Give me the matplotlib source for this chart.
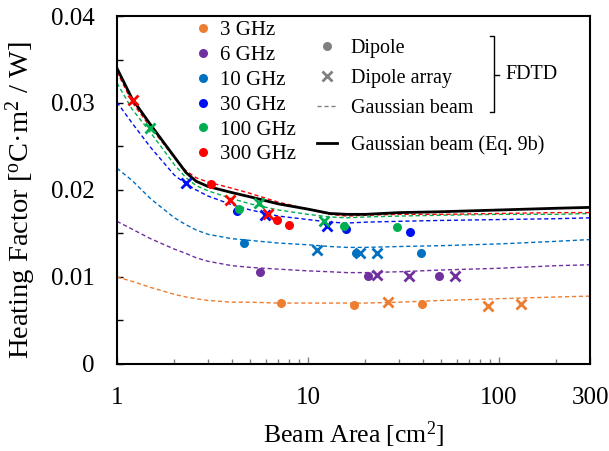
import matplotlib
matplotlib.use('Agg')
import matplotlib.pyplot as plt
from matplotlib.lines import Line2D
from matplotlib.ticker import FixedLocator, FuncFormatter, MultipleLocator, LogLocator, NullFormatter

plt.rcParams['font.family'] = ['Liberation Serif', 'DejaVu Serif']
plt.rcParams['mathtext.fontset'] = 'custom'
plt.rcParams['mathtext.rm'] = 'Liberation Serif'
plt.rcParams['mathtext.it'] = 'Liberation Serif:italic'

# beam area grid [cm2] for the curves
area = [1, 1.2, 1.5, 2, 2.3, 2.6, 3, 4, 5, 7, 10, 13, 16, 20, 30, 50, 100, 200, 300]

# Gaussian beam (Eq. 9b)
eq9b = [0.0340, 0.0305, 0.0275, 0.0238, 0.0220, 0.0210, 0.0204, 0.0197, 0.0192, 0.0184,
        0.0178, 0.0173, 0.0172, 0.0172, 0.0174, 0.0175, 0.0177, 0.0179, 0.0180]

# FDTD gaussian beam, per frequency
gb_3 = [0.0100, 0.0095, 0.0088, 0.0080, 0.0077, 0.0075, 0.0073, 0.0071, 0.0071, 0.0070,
        0.0070, 0.0070, 0.0070, 0.0070, 0.0071, 0.0073, 0.0075, 0.0077, 0.0078]
gb_6 = [0.0164, 0.0155, 0.0144, 0.0132, 0.0127, 0.0122, 0.0118, 0.0113, 0.0111, 0.0109,
        0.0107, 0.0106, 0.0105, 0.0105, 0.0106, 0.0108, 0.0110, 0.0113, 0.0114]
gb_10 = [0.0225, 0.0211, 0.0190, 0.0168, 0.0160, 0.0154, 0.0149, 0.0144, 0.0142, 0.0139,
         0.0137, 0.0135, 0.0134, 0.0134, 0.0135, 0.0136, 0.0138, 0.0141, 0.0143]
gb_30 = [0.0301, 0.0277, 0.0249, 0.0217, 0.0207, 0.0200, 0.0193, 0.0183, 0.0177, 0.0170,
         0.0166, 0.0163, 0.0162, 0.0163, 0.0164, 0.0165, 0.0166, 0.0167, 0.0168]
gb_100 = [0.0323, 0.0293, 0.0266, 0.0229, 0.0214, 0.0205, 0.0199, 0.0190, 0.0184, 0.0177,
          0.0172, 0.0169, 0.0168, 0.0169, 0.0170, 0.0171, 0.0172, 0.0172, 0.0173]
gb_300 = [0.0336, 0.0301, 0.0272, 0.0237, 0.0222, 0.0214, 0.0209, 0.0202, 0.0196, 0.0186,
          0.0178, 0.0172, 0.0170, 0.0171, 0.0172, 0.0172, 0.0173, 0.0174, 0.0174]

# dipole (dots) and dipole array (crosses): area, heating factor
dip_3_x = [7.23, 17.5, 39.5];     dip_3_y = [0.00705, 0.00675, 0.00686]
arr_3_x = [26.2, 87.8, 130.7];    arr_3_y = [0.00717, 0.00667, 0.00686]
dip_6_x = [5.59, 20.6, 48.7];     dip_6_y = [0.01057, 0.01011, 0.01015]
arr_6_x = [23.0, 34.0, 58.7];     arr_6_y = [0.01023, 0.01011, 0.01011]
dip_10_x = [4.64, 17.9, 39.3];    dip_10_y = [0.0139, 0.01274, 0.0127]
arr_10_x = [11.2, 18.7, 23.0];    arr_10_y = [0.01307, 0.01274, 0.01274]
dip_30_x = [4.24, 15.8, 34.1];    dip_30_y = [0.01762, 0.01552, 0.01513]
arr_30_x = [2.31, 5.96, 12.6];    arr_30_y = [0.0208, 0.01716, 0.01582]
dip_100_x = [4.37, 15.4, 29.1];   dip_100_y = [0.01778, 0.01582, 0.0158]
arr_100_x = [1.49, 5.54, 12.2];   arr_100_y = [0.02716, 0.01854, 0.01644]
dip_300_x = [3.12, 6.86, 7.93];   dip_300_y = [0.0207, 0.01659, 0.01601]
arr_300_x = [1.21, 3.92, 6.16];   arr_300_y = [0.0304, 0.01885, 0.01724]

labels = ['3 GHz', '6 GHz', '10 GHz', '30 GHz', '100 GHz', '300 GHz']
colors = ['#ED7D31', '#7030A0', '#0070C0', '#0010F0', '#00B050', '#FF0000']
curves = [gb_3, gb_6, gb_10, gb_30, gb_100, gb_300]
dips = [(dip_3_x, dip_3_y), (dip_6_x, dip_6_y), (dip_10_x, dip_10_y),
        (dip_30_x, dip_30_y), (dip_100_x, dip_100_y), (dip_300_x, dip_300_y)]
arrs = [(arr_3_x, arr_3_y), (arr_6_x, arr_6_y), (arr_10_x, arr_10_y),
        (arr_30_x, arr_30_y), (arr_100_x, arr_100_y), (arr_300_x, arr_300_y)]

fig = plt.figure(figsize=(6.09, 4.51), dpi=100)
ax = fig.add_axes([0.192, 0.193, 0.777, 0.7715])

for c, col in zip(curves, colors):
    ax.plot(area, c, color=col, lw=1.0, dashes=(3, 2))
ax.plot(area, eq9b, color='black', lw=2.0)

for (dx, dy), (axx, ayy), col in zip(dips, arrs, colors):
    ax.plot(dx, dy, 'o', color=col, ms=6.5, mec='none')
    ax.plot(axx, ayy, 'x', color=col, ms=7, mew=2)

ax.set_xscale('log')
ax.set_xlim(1, 300)
ax.set_ylim(0, 0.04)
ax.xaxis.set_major_locator(FixedLocator([1, 10, 100, 300]))
ax.xaxis.set_major_formatter(FuncFormatter(lambda v, p: '%g' % v))
ax.xaxis.set_minor_locator(LogLocator(base=10, subs=range(2, 10)))
ax.xaxis.set_minor_formatter(NullFormatter())
ax.yaxis.set_major_locator(MultipleLocator(0.01))
ax.yaxis.set_minor_locator(MultipleLocator(0.005))
ax.yaxis.set_major_formatter(FuncFormatter(lambda v, p: '%g' % round(v, 3)))
ax.tick_params(which='both', direction='in', labelsize=18, width=1.0, color='#808080')
ax.tick_params(axis='x', which='major', length=5, pad=16.5)
ax.tick_params(axis='x', which='minor', length=3.6)
ax.tick_params(axis='y', which='both', length=4, pad=16, color='black')
for s in ax.spines.values():
    s.set_linewidth(1.5)

ax.set_xlabel(r'Beam Area [cm$^{2}$]', fontsize=18.5, labelpad=7.5)
ax.set_ylabel(r'Heating Factor [$^{\rm o}$C·m$^{2}$ / W]', fontsize=20.5)
ax.yaxis.set_label_coords(-0.167, 0.47)

# frequency legend
fh = [Line2D([], [], ls='none', marker='o', color=c, ms=6.5, mec='none') for c in colors]
leg1 = ax.legend(fh, labels, loc='upper left', bbox_to_anchor=(0.160, 0.986), frameon=False,
                 fontsize=15, handlelength=1.0, handletextpad=0.32, labelspacing=0.25,
                 borderpad=0, borderaxespad=0)
ax.add_artist(leg1)

grey = '#808080'
mh = [Line2D([], [], ls='none', marker='o', color=grey, ms=6.5, mec='none'),
      Line2D([], [], ls='none', marker='x', color=grey, ms=7, mew=2),
      Line2D([], [], color=grey, lw=1.0, dashes=(3, 2))]
leg2 = ax.legend(mh, ['Dipole', 'Dipole array', 'Gaussian beam'], loc='upper left',
                 bbox_to_anchor=(0.423, 0.935), frameon=False, fontsize=14.5,
                 handlelength=1.0, handletextpad=0.68, labelspacing=0.55,
                 borderpad=0, borderaxespad=0)
ax.add_artist(leg2)
bh = [Line2D([], [], color='black', lw=2.0)]
ax.legend(bh, ['Gaussian beam (Eq. 9b)'], loc='upper left', bbox_to_anchor=(0.423, 0.656),
          frameon=False, fontsize=14.5, handlelength=1.0, handletextpad=0.68,
          borderpad=0, borderaxespad=0)

# bracket for FDTD group
tr = ax.transAxes
ax.plot([0.7875, 0.797, 0.797, 0.7875], [0.9425, 0.9425, 0.725, 0.725],
        color='black', lw=1.0, transform=tr, clip_on=False)
ax.plot([0.797, 0.8066], [0.8305, 0.8305], color='black', lw=1.0, transform=tr, clip_on=False)
ax.text(0.820, 0.8305, 'FDTD', transform=tr, fontsize=14.5, va='center', ha='left')

fig.savefig('out.png', dpi=100)
